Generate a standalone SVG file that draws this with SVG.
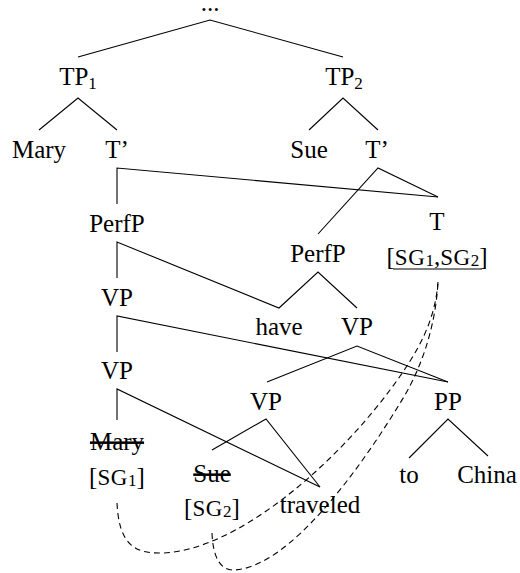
<svg xmlns="http://www.w3.org/2000/svg" width="520" height="573" viewBox="0 0 520 573">
<style>
text{font-family:"Liberation Serif","Times New Roman",serif;font-size:25px;fill:#000;text-anchor:middle}
.sub{font-size:17px}
.sc{font-size:23px;letter-spacing:0.6px}
.strike{text-decoration:line-through}
.edge{stroke:#000;stroke-width:1.1;fill:none}
.dash{stroke:#000;stroke-width:1.1;fill:none;stroke-dasharray:6,4}
.ul{stroke:#555;stroke-width:1.4}
</style>
<rect width="520" height="573" fill="#fff"/>
<g id="connectors">
<polyline class="edge" points="78,57 210,20 343,57"/>
<polyline class="edge" points="39,130 78,98 117,130"/>
<polyline class="edge" points="309,130 343,98 378,130"/>
<polyline class="edge" points="117,204 117,168 438,197"/>
<polyline class="edge" points="318,234 378,168 438,197"/>
<polyline class="edge" points="117,278 117,242 279,308 318,272 357,308"/>
<polyline class="edge" points="117,352 117,316 448,382"/>
<polyline class="edge" points="267,382 357,346 448,382"/>
<polyline class="edge" points="117,420 117,389 320,487"/>
<polyline class="edge" points="212,450 266,419 320,487"/>
<polyline class="edge" points="409,458 448,419 488,456"/>
<path class="dash" d="M117,503 C119,545 135,554 163,553 C235,550 330,470 390,390 C420,350 435,320 438,282"/>
<path class="dash" d="M212,533 C213,560 222,571 235,570 C290,566 360,470 405,395 C425,360 436,320 438,282"/>
</g>
<g id="root"><text x="210" y="11">...</text></g>
<g id="tp1"><text x="78" y="85">TP<tspan class="sub" dy="4">1</tspan></text></g>
<g id="tp2"><text x="344" y="85">TP<tspan class="sub" dy="4">2</tspan></text></g>
<g id="mary"><text x="39" y="158">Mary</text></g>
<g id="tbar1"><text x="117" y="158">T’</text></g>
<g id="sue"><text x="309" y="158">Sue</text></g>
<g id="tbar2"><text x="377" y="158">T’</text></g>
<g id="t"><text x="437" y="230">T</text>
<text x="437" y="265">[<tspan class="sc">SG</tspan><tspan class="sub" dy="1">1</tspan><tspan dy="-1">,</tspan><tspan class="sc">SG</tspan><tspan class="sub" dy="1">2</tspan><tspan dy="-1">]</tspan></text>
<line class="ul" x1="393" y1="269" x2="482" y2="269"/></g>
<g id="perfp1"><text x="117" y="232">PerfP</text></g>
<g id="perfp2"><text x="318" y="262">PerfP</text></g>
<g id="vp1"><text x="117" y="306">VP</text></g>
<g id="have"><text x="279" y="335">have</text></g>
<g id="vp2"><text x="357" y="335">VP</text></g>
<g id="vp3"><text x="117" y="379">VP</text></g>
<g id="vp4"><text x="266" y="410">VP</text></g>
<g id="pp"><text x="448" y="410">PP</text></g>
<g id="mary2"><text class="strike" x="117" y="450">Mary</text>
<text x="117" y="485">[<tspan class="sc">SG</tspan><tspan class="sub" dy="1">1</tspan><tspan dy="-1">]</tspan></text></g>
<g id="sue2"><text class="strike" x="212" y="482">Sue</text>
<text x="212" y="516">[<tspan class="sc">SG</tspan><tspan class="sub" dy="1">2</tspan><tspan dy="-1">]</tspan></text></g>
<g id="traveled"><text x="320" y="513">traveled</text></g>
<g id="to"><text x="409" y="483">to</text></g>
<g id="china"><text x="487" y="483">China</text></g>
</svg>
